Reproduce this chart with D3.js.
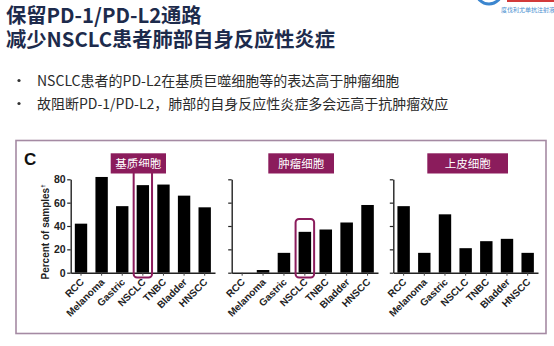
<!DOCTYPE html>
<html><head><meta charset="utf-8">
<script src="https://cdn.jsdelivr.net/npm/d3@7"></script>
<style>
html,body{margin:0;padding:0;background:#fff;}
svg{display:block;}
</style></head>
<body>
<svg id="c" width="554" height="346"></svg>
<script>
const titleLines = ["保留PD-1/PD-L2通路", "减少NSCLC患者肺部自身反应性炎症"];
const bullets = ["NSCLC患者的PD-L2在基质巨噬细胞等的表达高于肿瘤细胞", "故阻断PD-1/PD-L2，肺部的自身反应性炎症多会远高于抗肿瘤效应"];
const categories = ["RCC", "Melanoma", "Gastric", "NSCLC", "TNBC", "Bladder", "HNSCC"];
const panelTitles = ["基质细胞", "肿瘤细胞", "上皮细胞"];
const stromalValues = [42, 82, 57, 75, 75.5, 66, 56];
const tumorValues = [0, 2.3, 17, 35, 37, 43, 58];
const epithelialValues = [57, 17, 50, 21, 27, 29, 17];
const yTicks = [0, 20, 40, 60, 80];
const yTitle = "Percent of samples";
const panelLetter = "C";
const highlightCategory = "NSCLC";

const svg = d3.select("#c");
const cjk = "'Noto Sans CJK SC','Noto Sans',sans-serif";
const lat = "'Liberation Sans',Arial,sans-serif";
const magenta = "#8b1c5c";

// logo remnant
svg.append("circle").attr("cx", 489).attr("cy", -9).attr("r", 13)
  .attr("fill", "none").attr("stroke", "#3b86cf").attr("stroke-width", 3);
svg.append("rect").attr("x", 507).attr("y", 0).attr("width", 47).attr("height", 2).attr("fill", "#d23a3a");
svg.append("text").attr("x", 501).attr("y", 12).attr("font-size", 6).attr("fill", "#4a8fd0")
  .attr("font-family", cjk).text("度伐利尤单抗注射液");

// title (one text block, two lines)
const tt = svg.append("text").attr("class", "title")
  .attr("font-family", cjk).attr("font-weight", 700).attr("font-size", 20.3)
  .attr("fill", "#1d2b4c");
tt.selectAll("tspan").data(titleLines).join("tspan")
  .attr("x", 6).attr("y", (d, i) => 22.5 + i * 24.5).text(d => d);

// bullets
const bg = svg.selectAll("g.bullet").data(bullets).join("g").attr("class", "bullet")
  .attr("transform", (d, i) => `translate(0,${85.5 + i * 23})`);
bg.append("circle").attr("cx", 19).attr("cy", -5).attr("r", 1.6).attr("fill", "#333");
bg.append("text").attr("x", 37).attr("y", 0).attr("font-family", cjk)
  .attr("font-size", 14).attr("fill", "#2b2b2b").text(d => d);

// outer box
svg.append("rect").attr("x", 16).attr("y", 140.5).attr("width", 530).attr("height", 193)
  .attr("fill", "#fff").attr("stroke", "#a58aa3").attr("stroke-width", 1.6);

svg.append("text").attr("x", 24).attr("y", 165).attr("font-family", lat)
  .attr("font-weight", 700).attr("font-size", 17).attr("fill", "#111").text(panelLetter);

const y = d3.scaleLinear().domain([0, 80]).range([272.7, 179.3]);

const yt = svg.append("text").attr("transform", "translate(49,232) rotate(-90)")
  .attr("text-anchor", "middle").attr("font-family", lat).attr("font-weight", 700)
  .attr("font-size", 10).attr("fill", "#222");
yt.append("tspan").text(yTitle);
yt.append("tspan").attr("font-size", 6).attr("dy", -4).text("†");

const panels = [
  { title: panelTitles[0], values: stromalValues, range: [70.7, 215], labels: true, box: [110.7, 166], hl: 0 },
  { title: panelTitles[1], values: tumorValues, range: [231.7, 378], labels: false, box: [268.3, 334], hl: 1 },
  { title: panelTitles[2], values: epithelialValues, range: [393.3, 538], labels: false, box: [427.3, 508], hl: -1 }
];

panels.forEach(p => {
  const x = d3.scaleBand().domain(categories).range(p.range).paddingInner(0.4).paddingOuter(0.2);
  const g = svg.append("g");
  // bars
  g.selectAll("rect.bar").data(categories.map((c, i) => ({ c, v: p.values[i] }))).join("rect")
    .attr("x", d => x(d.c)).attr("width", x.bandwidth())
    .attr("y", d => y(d.v)).attr("height", d => y(0) - y(d.v)).attr("fill", "#000");
  // y axis
  const ya = g.append("g").attr("transform", `translate(${p.range[0]},0)`)
    .call(d3.axisLeft(y).tickValues(yTicks).tickSize(3.5).tickSizeOuter(0)
      .tickFormat(p.labels ? d3.format("d") : ""));
  ya.select(".domain").attr("stroke", "#222").attr("stroke-width", 1.4);
  ya.selectAll(".tick line").attr("stroke", "#222").attr("stroke-width", 1.2);
  ya.selectAll(".tick text").attr("font-family", lat).attr("font-weight", 700)
    .attr("font-size", 10.5).attr("fill", "#222").attr("x", -5);
  // x axis
  const xa = g.append("g").attr("transform", `translate(0,${y(0)})`)
    .call(d3.axisBottom(x).tickSize(3).tickSizeOuter(0));
  xa.select(".domain").attr("stroke", "#222").attr("stroke-width", 1.4);
  xa.selectAll(".tick line").attr("stroke", "#444").attr("stroke-width", 1);
  xa.selectAll(".tick text").attr("font-family", lat).attr("font-weight", 700)
    .attr("font-size", 10).attr("fill", "#222")
    .attr("text-anchor", "end").attr("dy", 0).attr("y", 0)
    .attr("transform", "translate(3.5,10) rotate(-45)");
  // title box
  g.append("rect").attr("x", p.box[0]).attr("y", 153.3).attr("width", p.box[1] - p.box[0])
    .attr("height", 20.2).attr("fill", magenta);
  g.append("text").attr("x", (p.box[0] + p.box[1]) / 2).attr("y", 167.6)
    .attr("text-anchor", "middle").attr("font-family", cjk).attr("font-size", 11.5)
    .attr("fill", "#fff").text(p.title);
  // highlight
  if (p.hl >= 0) {
    const hx = x(highlightCategory) - 3, hw = x.bandwidth() + 6;
    const top = p.hl === 0 ? 168 : 219;
    g.append("rect").attr("x", hx).attr("y", top).attr("width", hw).attr("height", 277.5 - top)
      .attr("rx", 3.5).attr("fill", "none").attr("stroke", magenta).attr("stroke-width", 2);
  }
});
</script>
</body></html>
